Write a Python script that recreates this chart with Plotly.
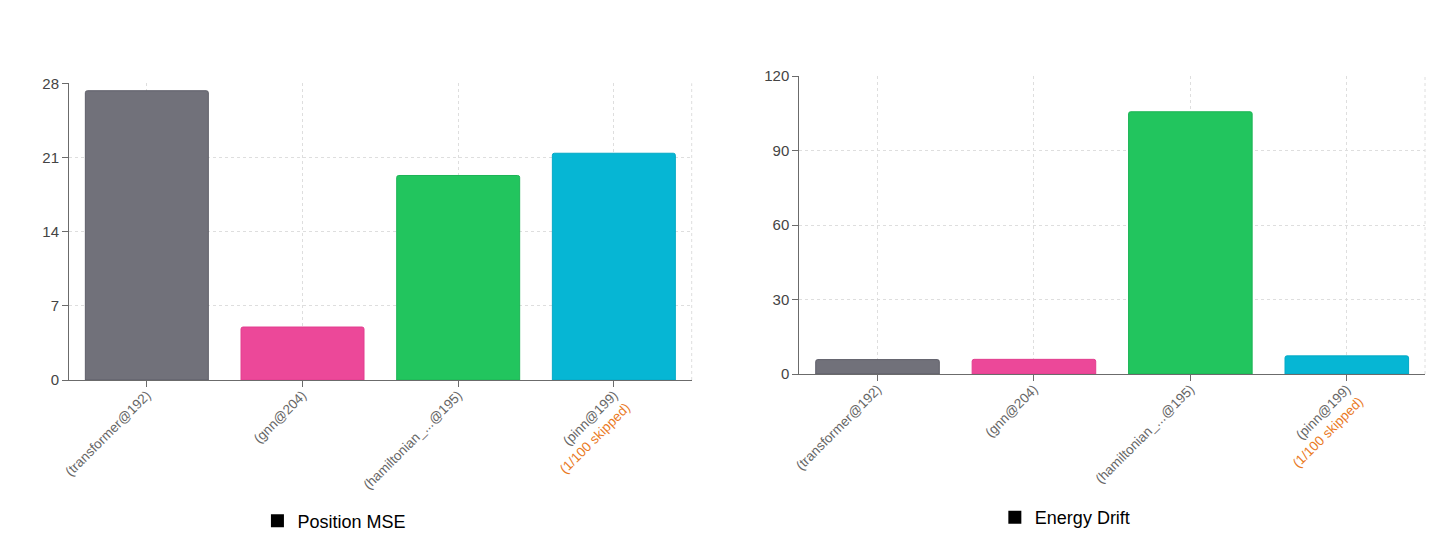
import plotly.graph_objects as go

# models evaluated, in display order
models = ["transformer@192", "gnn@204", "hamiltonian_...@195", "pinn@199"]
skipped = ["", "", "", "1/100 skipped"]

# metric values per model
position_mse = [27.3, 5.0, 19.3, 21.4]
energy_drift = [5.8, 5.9, 105.6, 7.3]

# y axis ticks
mse_ticks = [0, 7, 14, 21, 28]
drift_ticks = [0, 30, 60, 90, 120]

bar_colors = ["#71717a", "#ec4899", "#22c55e", "#06b6d4"]
edge_colors = ["#5e5e68", "#e23d8e", "#1cb455", "#05a9c6"]

FONT = "Liberation Sans, Arial, Helvetica, sans-serif"
GRID = "#dedede"
AXIS = "#6b6b6b"
ORANGE = "#ea7a1f"

W, H = 1456, 555
OFF = 8  # page body margin


def xdom(a, b):
    return [(a - OFF) / W, (b - OFF) / W]


def ydom(top, bottom):
    return [1 - (bottom - OFF) / H, 1 - (top - OFF) / H]


# tick labels: model in parentheses, plus an orange note when runs were skipped
ticktext = []
for m, s in zip(models, skipped):
    label = "(" + m + ")"
    if s:
        label += "<br><span style='color:%s'>(%s)</span>" % (ORANGE, s)
    ticktext.append(label)

fig = go.Figure()

# bars
fig.add_trace(go.Bar(
    x=models, y=position_mse,
    marker=dict(color=bar_colors, line=dict(color=edge_colors, width=1)),
    showlegend=False, xaxis="x", yaxis="y", hoverinfo="skip",
))
fig.add_trace(go.Bar(
    x=models, y=energy_drift,
    marker=dict(color=bar_colors, line=dict(color=edge_colors, width=1)),
    showlegend=False, xaxis="x2", yaxis="y2", hoverinfo="skip",
))

# legend entries (black swatch, like the reference)
fig.add_trace(go.Scatter(
    x=[None], y=[None], mode="markers", name="Position MSE",
    marker=dict(symbol="square", color="black", size=13),
    xaxis="x", yaxis="y", legend="legend",
))
fig.add_trace(go.Scatter(
    x=[None], y=[None], mode="markers", name="Energy Drift",
    marker=dict(symbol="square", color="black", size=13),
    xaxis="x2", yaxis="y2", legend="legend2",
))

xaxis_style = dict(
    type="category",
    tickmode="array", tickvals=models, ticktext=ticktext,
    tickangle=-45, ticklabelstandoff=-5,
    tickfont=dict(family=FONT, size=13.5, color="#666666"),
    ticks="outside", ticklen=6, tickcolor=AXIS,
    showline=True, linecolor=AXIS, linewidth=1,
    showgrid=True, gridcolor=GRID, griddash="3px,3px", gridwidth=1,
    zeroline=False, automargin=False, fixedrange=True,
)
yaxis_style = dict(
    tickfont=dict(family=FONT, size=15, color="#444444"),
    ticks="outside", ticklen=6, tickcolor=AXIS,
    showline=True, linecolor=AXIS, linewidth=1,
    showgrid=True, gridcolor=GRID, griddash="3px,3px", gridwidth=1,
    zeroline=False, automargin=False, fixedrange=True,
)

fig.update_layout(
    width=W, height=H,
    template="none",
    paper_bgcolor="white", plot_bgcolor="white",
    margin=dict(l=0, r=0, t=0, b=0),
    barmode="overlay", bargap=0.21, barcornerradius=2,
    font=dict(family=FONT),
    xaxis=dict(xaxis_style, domain=xdom(69, 691.7), anchor="y"),
    yaxis=dict(yaxis_style, domain=ydom(83.3, 380), range=[0, 28],
               tickvals=mse_ticks, anchor="x"),
    xaxis2=dict(xaxis_style, domain=xdom(799.3, 1425), anchor="y2"),
    yaxis2=dict(yaxis_style, domain=ydom(76, 374), range=[0, 120],
                tickvals=drift_ticks, anchor="x2"),
    legend=dict(x=0.2242, y=0.0754, xanchor="center", yanchor="middle",
                orientation="h", font=dict(family=FONT, size=18, color="black"),
                itemwidth=30, bgcolor="rgba(0,0,0,0)"),
    legend2=dict(x=0.7262, y=0.0818, xanchor="center", yanchor="middle",
                 orientation="h", font=dict(family=FONT, size=18, color="black"),
                 itemwidth=30, bgcolor="rgba(0,0,0,0)"),
)

# dashed border on the right edge of each plot area
for xr, yr in [("x domain", "y domain"), ("x2 domain", "y2 domain")]:
    fig.add_shape(type="line", xref=xr, yref=yr, x0=1, x1=1, y0=0, y1=1,
                  line=dict(color=GRID, width=1, dash="3px,3px"), layer="below")

fig.write_html("out.html")
